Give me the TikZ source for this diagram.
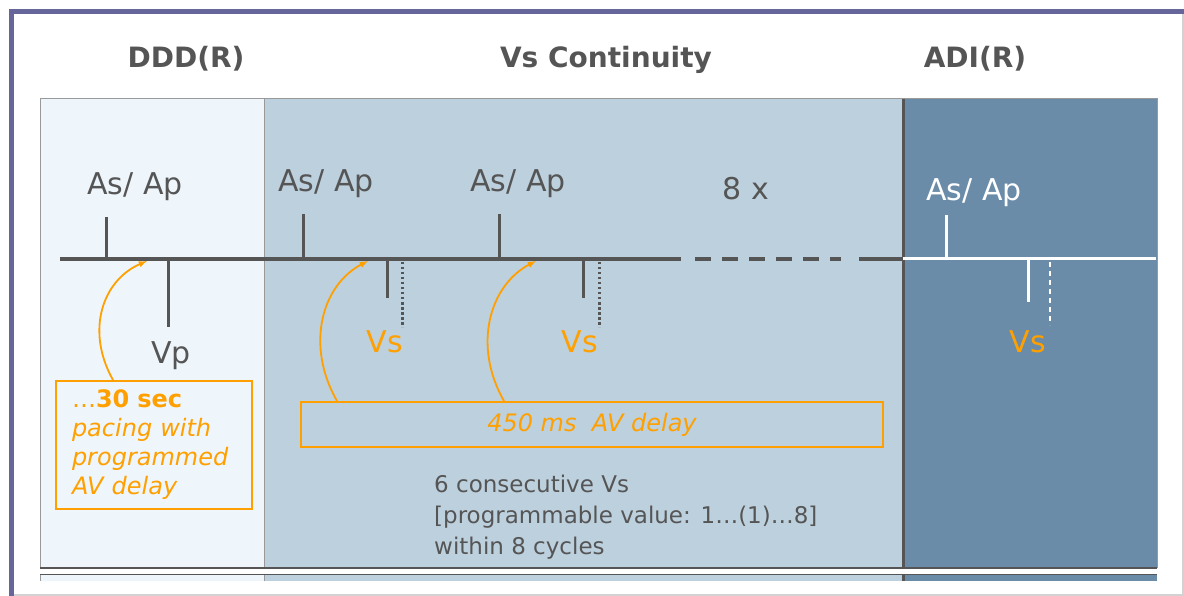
\documentclass[tikz,border=0pt]{standalone}
\usepackage{fontspec}
\setmainfont{DejaVu Sans}
\usepackage{tikz}

\definecolor{framepurple}{RGB}{102,102,154}
\definecolor{paleblue}{RGB}{238,246,252}
\definecolor{midblue}{RGB}{189,208,222}
\definecolor{deepblue}{RGB}{106,140,168}
\definecolor{darkgrey}{RGB}{85,85,85}
\definecolor{pacingorange}{RGB}{255,160,0}

\begin{document}
\begin{tikzpicture}[x=1pt, y=-1pt, >=latex,
	hdr/.style={anchor=base, text=darkgrey, font=\fontsize{28}{34}\selectfont\bfseries},
	lbl/.style={anchor=base, text=darkgrey, font=\fontsize{30}{36}\selectfont},
	vslbl/.style={lbl, text=pacingorange},
	tick/.style={darkgrey, line width=3pt},
	dottick/.style={darkgrey, line width=3pt, dash pattern=on 2.5pt off 2.5pt},
	obox/.style={draw=pacingorange, line width=2pt, text=pacingorange, font=\fontsize{24}{29}\selectfont\itshape},
	pacearrow/.style={->, draw=pacingorange, line width=1.8pt}]
	\useasboundingbox (0,0) rectangle (1184,596);
	%\draw[thin, gray!25] (0,0) grid[step=50] (1184,596);
	% frame
	\draw[gray!35, line width=1.5pt] (1183,12) -- (1183,595) -- (11,595);
	\draw[framepurple, line width=5pt] (11,596) -- (11,12) -- (1184,12);
	% panels
	\fill[paleblue] (40,99) rectangle (264,568);
	\fill[midblue] (264,99) rectangle (903,568);
	\fill[deepblue] (903,99) rectangle (1157,568);
	\fill[paleblue] (40,574) rectangle (264,581);
	\fill[midblue] (264,574) rectangle (903,581);
	\fill[deepblue] (903,574) rectangle (1157,581);
	\draw[gray!80, line width=1pt] (40,568) -- (40,99) -- (1157,99) -- (1157,568);
	\draw[gray!80, line width=1pt] (264,99) -- (264,568);
	\draw[gray!80, line width=1pt] (40,574) -- (40,581);
	\draw[gray!80, line width=1pt] (264,574) -- (264,581);
	\draw[darkgrey, line width=3pt] (903,99) -- (903,568);
	\draw[darkgrey, line width=3pt] (903,574) -- (903,581);
	\draw[darkgrey, line width=1.5pt] (40,568) -- (1157,568);
	\draw[darkgrey, line width=1pt] (40,574) -- (1157,574);
	% headers
	\node[hdr] (hddd) at (186,68) {DDD(R)};
	\node[hdr] (hvscont) at (606,68) {Vs Continuity};
	\node[hdr] (hadi) at (975,68) {ADI(R)};
	% time line
	\draw[darkgrey, line width=4pt] (60,259) -- (681,259);
	\draw[darkgrey, line width=4pt, dash pattern=on 16pt off 11pt] (695,259) -- (841,259);
	\draw[darkgrey, line width=4pt] (859,259) -- (903,259);
	\draw[white, line width=3pt] (903,259) -- (1156,259);
	% DDD(R)
	\draw[tick] (106,259) -- (106,217);
	\draw[tick] (168,259) -- (168,327);
	\node[lbl] (asddd) at (135,195) {As/ Ap};
	\node[lbl] (vp) at (171,363) {Vp};
	% Vs continuity
	\draw[tick] (303,259) -- (303,214);
	\draw[tick] (499,259) -- (499,214);
	\draw[tick] (387,259) -- (387,298);
	\draw[dottick] (402,262) -- (402,327);
	\draw[tick] (583,259) -- (583,298);
	\draw[dottick] (599,262) -- (599,327);
	\node[lbl] (asone) at (326,192) {As/ Ap};
	\node[lbl] (astwo) at (518,192) {As/ Ap};
	\node[lbl] (eightx) at (746,200) {8 x};
	\node[vslbl] (vsone) at (385,352) {Vs};
	\node[vslbl] (vstwo) at (580,352) {Vs};
	% ADI(R)
	\draw[white, line width=3pt] (946,259) -- (946,215);
	\draw[white, line width=3pt] (1028,259) -- (1028,302);
	\draw[white, line width=1.5pt, dash pattern=on 5pt off 4pt] (1050,262) -- (1050,325);
	\node[lbl, text=white] (asadi) at (974,201) {As/ Ap};
	\node[vslbl] (vsadi) at (1028,352) {Vs};
	% boxes
	\node[obox, anchor=north west, align=left, text width=164pt, inner xsep=16pt, minimum height=128pt] (pacebox) at (55,380)
		{{\upshape…}{\upshape\bfseries 30 sec}\\pacing with\\programmed\\AV delay};
	\node[obox, minimum width=582pt, minimum height=45pt] (delaybox) at (592,424.5) {450 ms\ \ AV delay};
	\node[anchor=north west, align=left, inner sep=0pt, text=darkgrey, font=\fontsize{23}{31}\selectfont] (vsrule) at (434,475)
		{6 consecutive Vs\\{[}programmable value: 1…(1)…8]\\within 8 cycles};
	% arrows
	\coordinate (tone) at (147,261);
	\coordinate (ttwo) at (368,261);
	\coordinate (tthree) at (536,261);
	\draw[pacearrow] ([xshift=58pt]pacebox.north west) .. controls (85,330) and (103,280) .. (tone);
	\draw[pacearrow] ([xshift=37pt]delaybox.north west) .. controls (305,345) and (322,285) .. (ttwo);
	\draw[pacearrow] ([xshift=204pt]delaybox.north west) .. controls (472,345) and (490,285) .. (tthree);
\end{tikzpicture}
\end{document}
